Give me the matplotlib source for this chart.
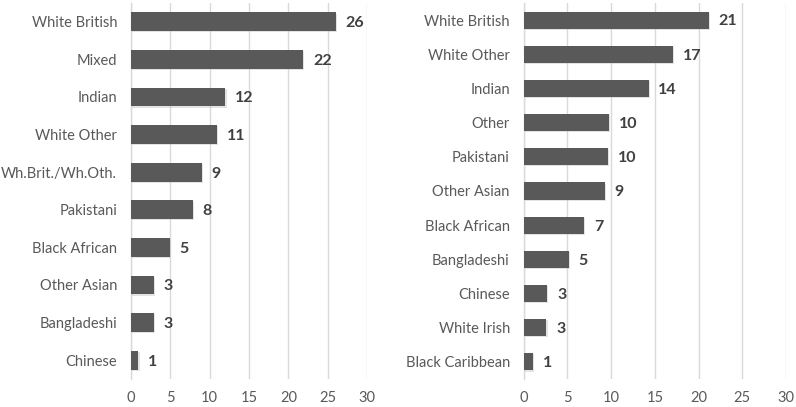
import matplotlib
matplotlib.use("Agg")
import matplotlib.pyplot as plt
import matplotlib.patheffects as pe

left_categories = ["White British", "Mixed", "Indian", "White Other", "Wh.Brit./Wh.Oth.",
                   "Pakistani", "Black African", "Other Asian", "Bangladeshi", "Chinese"]
left_values = [26.0, 21.9, 12.0, 10.95, 9.0, 7.9, 4.95, 2.95, 2.95, 0.95]
left_labels = ["26", "22", "12", "11", "9", "8", "5", "3", "3", "1"]

right_categories = ["White British", "White Other", "Indian", "Other", "Pakistani",
                    "Other Asian", "Black African", "Bangladeshi", "Chinese",
                    "White Irish", "Black Caribbean"]
right_values = [21.2, 17.05, 14.3, 9.76, 9.68, 9.27, 6.94, 5.15, 2.7, 2.6, 1.1]
right_labels = ["21", "17", "14", "10", "10", "9", "7", "5", "3", "3", "1"]

x_ticks = [0, 5, 10, 15, 20, 25, 30]

plt.rcParams['font.family'] = ['Lato', 'DejaVu Sans']

W, H = 796, 407
fig = plt.figure(figsize=(W / 100, H / 100), dpi=100)

BAR = "#595959"
GRID = "#d9d9d9"
TXT = "#595959"
VAL = "#404040"


def panel(rect, cats, vals, labels):
    ax = fig.add_axes(rect)
    n = len(cats)
    ys = list(range(n))
    bars = ax.barh(ys, vals, height=0.5, color=BAR, zorder=3)
    for b in bars:
        b.set_path_effects([pe.SimplePatchShadow(offset=(0.8, -0.8), shadow_rgbFace="#b0b0b0", alpha=0.35),
                            pe.Normal()])
    for y, v, lab in zip(ys, vals, labels):
        ax.annotate(lab, (v, y), xytext=(7, -1), textcoords="offset points",
                    ha="left", va="center", fontsize=11.5, fontweight="bold", color=VAL)
    ax.set_xlim(0, 30)
    ax.set_ylim(n - 0.5, -0.5)
    ax.set_xticks(x_ticks)
    ax.set_yticks(ys)
    ax.set_yticklabels(cats)
    ax.tick_params(axis="both", length=0, colors=TXT, labelsize=10.5)
    ax.tick_params(axis="y", pad=10)
    ax.tick_params(axis="x", pad=9)
    ax.grid(axis="x", color=GRID, linewidth=1, zorder=0)
    for s in ["top", "right", "bottom"]:
        ax.spines[s].set_visible(False)
    ax.spines["left"].set_color(GRID)
    ax.spines["left"].set_linewidth(1)
    return ax


panel([131 / W, 28 / H, 236 / W, 376 / H], left_categories, left_values, left_labels)
panel([523.7 / W, 28 / H, 262.3 / W, 376 / H], right_categories, right_values, right_labels)

fig.savefig("out.png", dpi=100, facecolor="white")
